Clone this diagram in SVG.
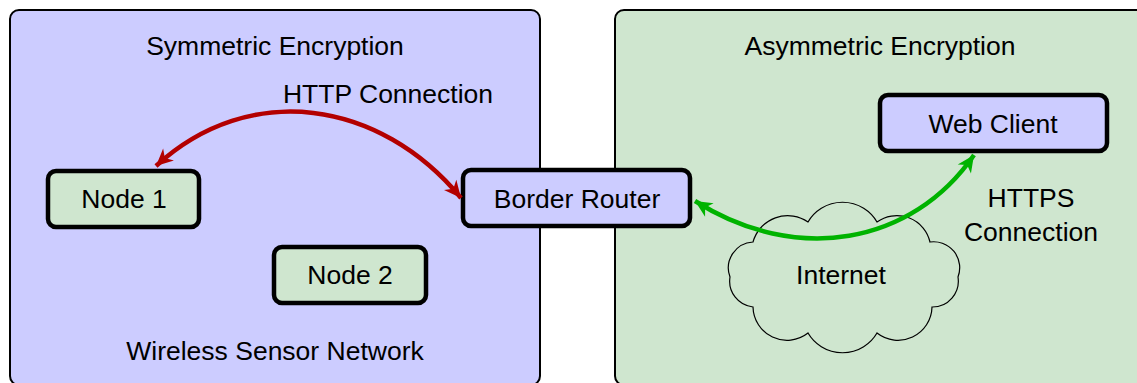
<svg xmlns="http://www.w3.org/2000/svg" width="1137" height="383" viewBox="0 0 1137 383">
<style>
.panel{stroke:#000;stroke-width:2}
.node{stroke:#000;stroke-width:4.5}
.blue{fill:#ccccff}
.green{fill:#cfe6cf}
text{font-family:"Liberation Sans",Arial,sans-serif;font-size:26.5px;fill:#000;text-anchor:middle}
.red{fill:none;stroke:#b30000;stroke-width:4.5}
.grn{fill:none;stroke:#00b300;stroke-width:4.5}
</style>
<defs>
<marker id="hr" markerUnits="userSpaceOnUse" markerWidth="22" markerHeight="22" refX="19" refY="11" orient="auto-start-reverse" viewBox="0 0 22 22">
<path d="M19,11 L2,3 L7,11 L2,19 Z" fill="#b30000"/>
</marker>
<marker id="hg" markerUnits="userSpaceOnUse" markerWidth="22" markerHeight="22" refX="19" refY="11" orient="auto-start-reverse" viewBox="0 0 22 22">
<path d="M19,11 L2,3 L7,11 L2,19 Z" fill="#00b300"/>
</marker>
</defs>
<g id="wsn">
<rect class="panel blue" x="10" y="10" width="530" height="375" rx="9"/>
<text x="275" y="55">Symmetric Encryption</text>
<text x="275" y="360">Wireless Sensor Network</text>
</g>
<g id="internet-zone">
<rect class="panel green" x="615" y="10" width="540" height="375" rx="9"/>
<text x="880" y="55">Asymmetric Encryption</text>
</g>
<g id="cloud">
<path d="M753,242 A36,36 0 0 1 808,222 A40,40 0 0 1 877,222 A34,34 0 0 1 930,242 A26,26 0 0 1 958,277 A26,26 0 0 1 932,307 A34,34 0 0 1 877,333 A40,40 0 0 1 808,333 A34,34 0 0 1 753,307 A26,26 0 0 1 730,277 A26,26 0 0 1 753,242 Z" fill="#cfe6cf" stroke="#000" stroke-width="1.2"/>
<text x="841" y="284">Internet</text>
</g>
<g id="node1">
<rect class="node green" x="48" y="171" width="151" height="56" rx="8"/>
<text x="124" y="208">Node 1</text>
</g>
<g id="node2">
<rect class="node green" x="274" y="247" width="152" height="56" rx="8"/>
<text x="350" y="284">Node 2</text>
</g>
<g id="border-router">
<rect class="node blue" x="463" y="170" width="227" height="56" rx="8"/>
<text x="577" y="208">Border Router</text>
</g>
<g id="web-client">
<rect class="node blue" x="880" y="95" width="227" height="56" rx="8"/>
<text x="993" y="133">Web Client</text>
</g>
<g id="connectors">
<path class="red" d="M461,198 C380,100 250,80 156,166" marker-start="url(#hr)" marker-end="url(#hr)"/>
<text x="388" y="103">HTTP Connection</text>
<path class="grn" d="M695,201 C796,265 912,245 974,155" marker-start="url(#hg)" marker-end="url(#hg)"/>
<text x="1031" y="207">HTTPS</text>
<text x="1031" y="241">Connection</text>
</g>
</svg>
